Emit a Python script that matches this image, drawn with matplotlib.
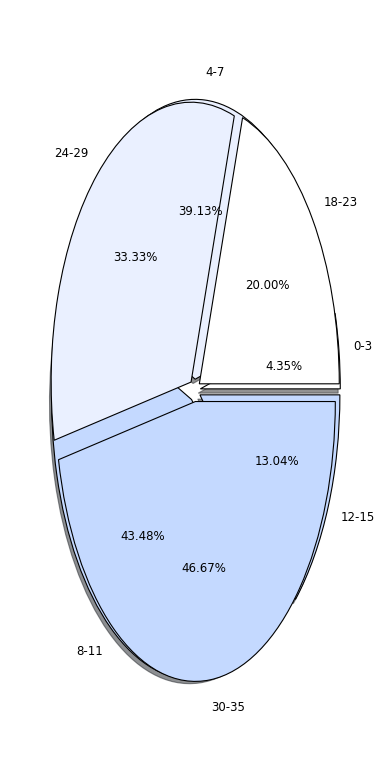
import matplotlib
matplotlib.use("Agg")
import matplotlib.pyplot as plt

# inner ages (back pie) and outer ages (front pie)
labels_a = ['0-3', '4-7', '8-11', '12-15']
counts_a = [1, 9, 10, 3]
labels_b = ['18-23', '24-29', '30-35']
counts_b = [3, 5, 7]

colors_a = ['#ffffff', '#eaf0ff', '#c4d9ff', '#c4d9ff']
colors_b = ['#ffffff', '#eaf0ff', '#c4d9ff']

fig = plt.figure(figsize=(3.9, 7.8), dpi=100)
ax = fig.add_axes([0.051, 0.051, 0.897, 0.897])

wp = {'edgecolor': 'black', 'linewidth': 0.8}
# back pie with a thin drop shadow
ax.pie(counts_a, labels=labels_a, colors=colors_a, autopct='%1.2f%%',
       explode=[0.04] * len(counts_a),
       shadow={'ox': -0.011, 'oy': -0.011, 'shade': 0.85},
       wedgeprops=wp, textprops={'fontsize': 8.5})
# front pie drawn on top
ax.pie(counts_b, labels=labels_b, colors=colors_b, autopct='%1.2f%%',
       explode=[0.04] * len(counts_b), wedgeprops=wp,
       textprops={'fontsize': 8.5})

ax.set_aspect('auto')
ax.set_xlim(-1.25, 1.25)
ax.set_ylim(-1.25, 1.25)

fig.savefig('out.png', dpi=100)
